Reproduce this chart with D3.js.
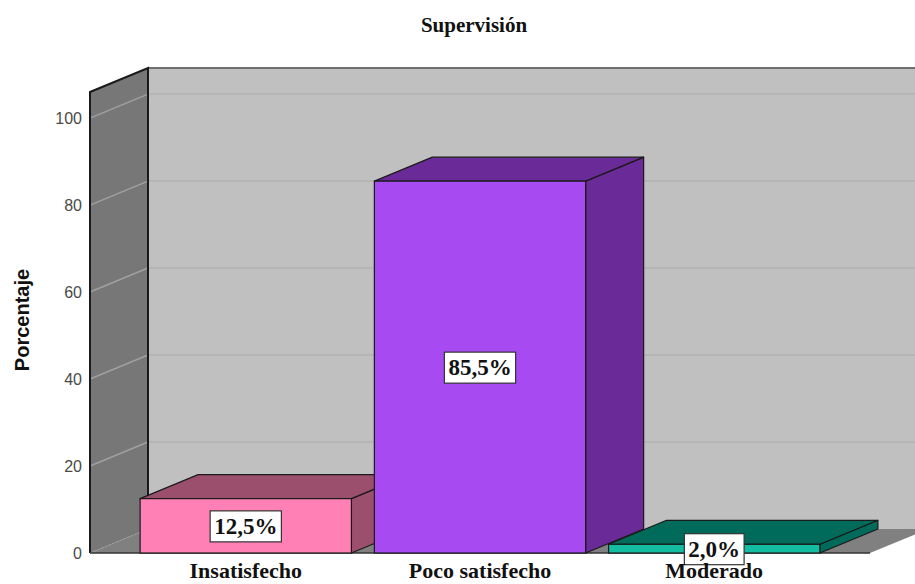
<!DOCTYPE html>
<html>
<head>
<meta charset="utf-8">
<script src="https://cdn.jsdelivr.net/npm/d3@7"></script>
<style>
  html, body { margin: 0; padding: 0; background: #fff; }
</style>
</head>
<body>
<div id="chart-container"></div>
<script>
const categories = ['Insatisfecho', 'Poco satisfecho', 'Moderado']
const percentages = [12.5, 85.5, 2.0]
const yTicks = [0, 20, 40, 60, 80, 100]
const titleText = 'Supervisión'
const yAxisTitle = 'Porcentaje'

// Options:
const width = 915
const height = 584
const yMax = 106
const depthX = 58
const depthY = 24
const frontFill = ['#ff80b4', '#a74af2', '#14bca2']
const sideFill = ['#9c4f6c', '#6a2b98', '#006b5b']
const serif = "'Liberation Serif', 'Times New Roman', serif"
const sans = "'Liberation Sans', Arial, sans-serif"

const svg = d3
  .select('#chart-container')
  .append('svg')
  .attr('width', width)
  .attr('height', height)
  .attr('viewBox', `0 0 ${width} ${height}`)

const xScale = d3
  .scaleBand()
  .domain(categories)
  .range([90, 870])
  .paddingInner(0.098)
  .paddingOuter(0.214)

const yScale = d3.scaleLinear().domain([0, yMax]).range([553, 92])

const [x0, x1] = xScale.range()
const y0 = yScale(0)
const yTop = yScale(yMax)

const poly = pts => 'M' + pts.map(p => p.join(',')).join('L') + 'Z'

// back wall
svg
  .append('rect')
  .attr('x', x0 + depthX)
  .attr('y', yTop - depthY)
  .attr('width', x1 - x0)
  .attr('height', y0 - yTop)
  .attr('fill', '#c0c0c0')

svg
  .append('line')
  .attr('x1', x0 + depthX)
  .attr('x2', x1 + depthX)
  .attr('y1', yTop - depthY)
  .attr('y2', yTop - depthY)
  .attr('stroke', '#6e6e6e')
  .attr('stroke-width', 2)

// floor
svg
  .append('path')
  .attr(
    'd',
    poly([
      [x0, y0],
      [x1, y0],
      [x1 + depthX, y0 - depthY],
      [x0 + depthX, y0 - depthY],
    ]),
  )
  .attr('fill', '#808080')

// left wall
svg
  .append('path')
  .attr(
    'd',
    poly([
      [x0, yTop],
      [x0, y0],
      [x0 + depthX, y0 - depthY],
      [x0 + depthX, yTop - depthY],
    ]),
  )
  .attr('fill', '#777777')

// grid lines, back wall
svg
  .append('g')
  .selectAll('line')
  .data(yTicks.filter(d => d > 0))
  .join('line')
  .attr('x1', x0 + depthX)
  .attr('x2', x1 + depthX)
  .attr('y1', d => yScale(d) - depthY)
  .attr('y2', d => yScale(d) - depthY)
  .attr('stroke', '#b2b2b2')
  .attr('stroke-width', 1.5)

// grid lines, left wall
svg
  .append('g')
  .selectAll('line')
  .data(yTicks.filter(d => d > 0))
  .join('line')
  .attr('x1', x0)
  .attr('x2', x0 + depthX)
  .attr('y1', d => yScale(d))
  .attr('y2', d => yScale(d) - depthY)
  .attr('stroke', '#a0a0a0')
  .attr('stroke-width', 1.5)

// wall edges
svg
  .append('path')
  .attr(
    'd',
    `M${x0},${y0}L${x0},${yTop}L${x0 + depthX},${yTop - depthY}L${
      x0 + depthX
    },${y0 - depthY}`,
  )
  .attr('fill', 'none')
  .attr('stroke', '#1a1a1a')
  .attr('stroke-width', 2)

svg
  .append('line')
  .attr('x1', x0)
  .attr('y1', y0)
  .attr('x2', x0 + depthX)
  .attr('y2', y0 - depthY)
  .attr('stroke', '#a0a0a0')
  .attr('stroke-dasharray', '2,2')

svg
  .append('line')
  .attr('x1', x0)
  .attr('x2', x1)
  .attr('y1', y0)
  .attr('y2', y0)
  .attr('stroke', '#333')
  .attr('stroke-width', 1.5)

// bars
const bars = svg
  .append('g')
  .selectAll('g')
  .data(categories.map((c, i) => ({ c, v: percentages[i], i })))
  .join('g')

bars.each(function (d) {
  const g = d3.select(this)
  const bx = xScale(d.c)
  const bw = xScale.bandwidth()
  const by = yScale(d.v)

  // side
  g.append('path')
    .attr(
      'd',
      poly([
        [bx + bw, by],
        [bx + bw + depthX, by - depthY],
        [bx + bw + depthX, y0 - depthY],
        [bx + bw, y0],
      ]),
    )
    .attr('fill', sideFill[d.i])
    .attr('stroke', '#1a1a1a')
    .attr('stroke-width', 1.2)
    .attr('stroke-linejoin', 'round')

  // top
  g.append('path')
    .attr(
      'd',
      poly([
        [bx, by],
        [bx + depthX, by - depthY],
        [bx + bw + depthX, by - depthY],
        [bx + bw, by],
      ]),
    )
    .attr('fill', sideFill[d.i])
    .attr('stroke', '#1a1a1a')
    .attr('stroke-width', 1.2)
    .attr('stroke-linejoin', 'round')

  // front
  g.append('rect')
    .attr('x', bx)
    .attr('y', by)
    .attr('width', bw)
    .attr('height', y0 - by)
    .attr('fill', frontFill[d.i])
    .attr('stroke', '#1a1a1a')
    .attr('stroke-width', 1.2)
})

// value labels
const fmt = v => d3.format('.1f')(v).replace('.', ',') + '%'

const labels = svg
  .append('g')
  .selectAll('g')
  .data(categories.map((c, i) => ({ c, v: percentages[i] })))
  .join('g')
  .attr(
    'transform',
    d =>
      `translate(${xScale(d.c) + xScale.bandwidth() / 2}, ${
        (yScale(d.v) + y0) / 2
      })`,
  )

labels
  .append('text')
  .attr('font-family', serif)
  .attr('font-weight', 'bold')
  .attr('font-size', 23)
  .attr('fill', '#111')
  .attr('text-anchor', 'middle')
  .attr('dy', '0.35em')
  .text(d => fmt(d.v))

labels.each(function () {
  const g = d3.select(this)
  const bb = g.select('text').node().getBBox()
  g.insert('rect', 'text')
    .attr('x', bb.x - 4)
    .attr('y', bb.y - 3)
    .attr('width', bb.width + 8)
    .attr('height', bb.height + 6)
    .attr('fill', '#fff')
    .attr('stroke', '#333')
    .attr('stroke-width', 1.2)
})

// category labels
svg
  .append('g')
  .selectAll('text')
  .data(categories)
  .join('text')
  .attr('x', d => xScale(d) + xScale.bandwidth() / 2)
  .attr('y', 578)
  .attr('text-anchor', 'middle')
  .attr('font-family', serif)
  .attr('font-weight', 'bold')
  .attr('font-size', 22)
  .attr('fill', '#111')
  .text(d => d)

// y axis tick labels
svg
  .append('g')
  .selectAll('text')
  .data(yTicks)
  .join('text')
  .attr('x', 82)
  .attr('y', d => yScale(d))
  .attr('dy', '0.35em')
  .attr('text-anchor', 'end')
  .attr('font-family', sans)
  .attr('font-size', 16)
  .attr('fill', '#4a4a4a')
  .text(d => d)

// y axis title
svg
  .append('text')
  .attr('transform', `translate(29, 320) rotate(-90)`)
  .attr('text-anchor', 'middle')
  .attr('font-family', sans)
  .attr('font-weight', 'bold')
  .attr('font-size', 20)
  .attr('fill', '#111')
  .text(yAxisTitle)

// title
svg
  .append('text')
  .attr('x', 474)
  .attr('y', 32)
  .attr('text-anchor', 'middle')
  .attr('font-family', serif)
  .attr('font-weight', 'bold')
  .attr('font-size', 21)
  .attr('fill', '#111')
  .text(titleText)
</script>
</body>
</html>
